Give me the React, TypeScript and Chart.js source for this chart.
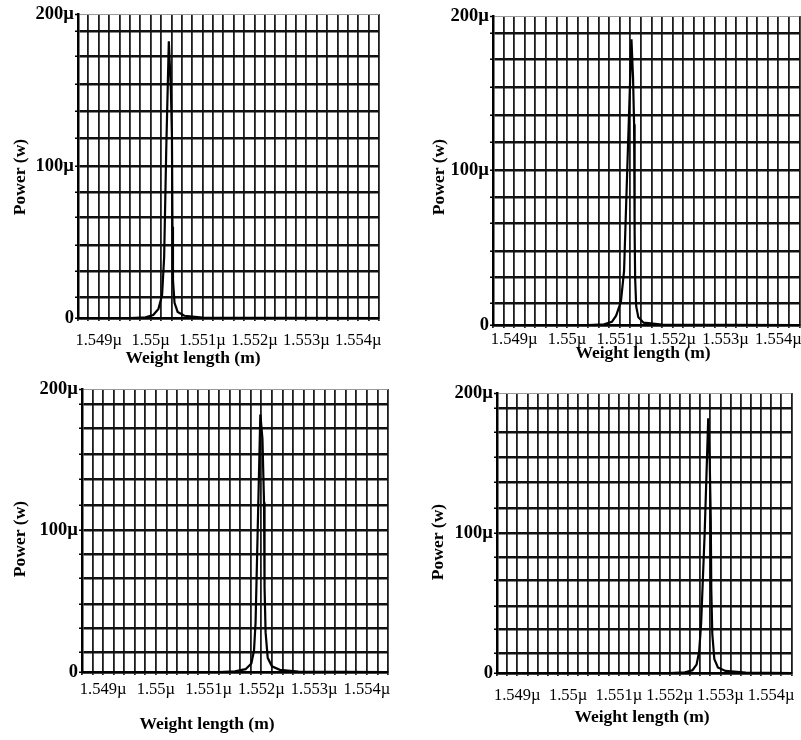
import React, { useEffect, useRef } from "react";
import { Chart, registerables } from "chart.js";

Chart.register(...registerables);

const FONT = '"Liberation Serif", "Times New Roman", Times, serif';

// wavelength axis in nm, power in µW
const xMin = 1548.6;
const xMax = 1554.4;
const xLabelValues = [1549, 1550, 1551, 1552, 1553, 1554];
const xLabelTexts = ["1.549µ", "1.55µ", "1.551µ", "1.552µ", "1.553µ", "1.554µ"];
const yGridValues = [0, 14, 31, 48, 66, 83, 100, 118, 136, 154, 172, 189, 200];
const yLabelValues = [0, 100, 200];
const yLabelTexts = ["0", "100µ", "200µ"];
const xAxisTitle = "Weight length (m)";
const yAxisTitle = "Power (w)";

// grid every 0.2 nm
const xGridValues = Array.from({ length: 30 }, (_, i) => Math.round((xMin + i * 0.2) * 10) / 10);

// panel 1
const wave1 = [1548.6, 1549.6, 1549.9, 1550.05, 1550.15, 1550.22, 1550.26, 1550.3, 1550.35, 1550.39, 1550.41, 1550.42, 1550.43, 1550.46, 1550.52, 1550.65, 1551.0, 1554.4];
const power1 = [0, 0, 0.5, 2, 6, 15, 40, 110, 182, 150, 120, 60, 25, 10, 4, 1.5, 0.3, 0];
// panel 2
const wave2 = [1548.6, 1550.4, 1550.7, 1550.85, 1550.93, 1551.02, 1551.08, 1551.14, 1551.22, 1551.25, 1551.27, 1551.28, 1551.29, 1551.31, 1551.35, 1551.45, 1551.8, 1554.4];
const power2 = [0, 0, 0.5, 2, 6, 15, 35, 100, 185, 160, 130, 61, 30, 12, 5, 1.5, 0.3, 0];
// panel 3
const wave3 = [1548.6, 1551.2, 1551.5, 1551.7, 1551.81, 1551.86, 1551.89, 1551.93, 1551.98, 1552.02, 1552.05, 1552.06, 1552.08, 1552.12, 1552.2, 1552.35, 1552.7, 1554.4];
const power3 = [0, 0, 0.5, 2, 6, 15, 35, 100, 182, 165, 120, 60, 28, 10, 4, 1.5, 0.3, 0];
// panel 4
const wave4 = [1548.6, 1552.0, 1552.3, 1552.45, 1552.53, 1552.58, 1552.62, 1552.69, 1552.76, 1552.79, 1552.81, 1552.82, 1552.84, 1552.88, 1552.95, 1553.1, 1553.5, 1554.4];
const power4 = [0, 0, 0.5, 2, 6, 15, 35, 100, 182, 150, 110, 60, 28, 10, 4, 1.5, 0.3, 0];

type Layout = {
  left: number; top: number; w: number; h: number;
  area: { left: number; top: number; right: number; bottom: number };
  xTickPad: number;
  xTitle: [number, number];
  yTitle: [number, number];
};

const layouts: Layout[] = [
  { left: 0, top: 0, w: 400, h: 370, area: { left: 78, top: 14, right: 379, bottom: 318 }, xTickPad: 9.5, xTitle: [193, 358], yTitle: [20.5, 177] },
  { left: 400, top: 0, w: 401, h: 370, area: { left: 93, top: 16, right: 400, bottom: 325 }, xTickPad: 1.5, xTitle: [243, 353], yTitle: [39.5, 177] },
  { left: 0, top: 370, w: 400, h: 370, area: { left: 82, top: 19, right: 388, bottom: 302 }, xTickPad: 5, xTitle: [207, 354], yTitle: [20.5, 169] },
  { left: 400, top: 370, w: 401, h: 370, area: { left: 97, top: 23, right: 397, bottom: 303 }, xTickPad: 9.5, xTitle: [242, 347], yTitle: [38.5, 172] },
];

const series = [
  [wave1, power1],
  [wave2, power2],
  [wave3, power3],
  [wave4, power4],
];

function labelFor(values: number[], texts: string[], v: number) {
  const i = values.findIndex((t) => Math.abs(t - v) < 1e-6);
  return i >= 0 ? texts[i] : "";
}

function Panel({ layout, wave, power }: { layout: Layout; wave: number[]; power: number[] }) {
  const ref = useRef<HTMLCanvasElement | null>(null);
  useEffect(() => {
    const canvas = ref.current!;
    const titlePlugin = {
      id: "axisTitles",
      afterDraw(chart: any) {
        const ctx = chart.ctx;
        ctx.save();
        ctx.fillStyle = "#000";
        ctx.font = `bold 17.5px ${FONT}`;
        ctx.textAlign = "center";
        ctx.textBaseline = "middle";
        ctx.fillText(xAxisTitle, layout.xTitle[0], layout.xTitle[1]);
        ctx.translate(layout.yTitle[0], layout.yTitle[1]);
        ctx.rotate(-Math.PI / 2);
        ctx.fillText(yAxisTitle, 0, 0);
        ctx.restore();
      },
    };
    const chart = new Chart(canvas, {
      type: "line",
      data: {
        datasets: [
          {
            data: wave.map((x, i) => ({ x, y: power[i] })),
            borderColor: "#000",
            borderWidth: 2.2,
            pointRadius: 0,
            tension: 0,
            fill: false,
          },
        ],
      },
      options: {
        responsive: false,
        animation: false,
        devicePixelRatio: 1,
        layout: {
          padding: { left: 0, top: layout.area.top, right: layout.w - layout.area.right, bottom: 0 },
        },
        plugins: { legend: { display: false }, tooltip: { enabled: false } },
        scales: {
          x: {
            type: "linear",
            min: xMin,
            max: xMax,
            afterBuildTicks: (s: any) => {
              s.ticks = xGridValues.map((v) => ({ value: v }));
            },
            afterFit: (s: any) => {
              s.height = layout.h - layout.area.bottom;
            },
            ticks: {
              autoSkip: false,
              maxRotation: 0,
              minRotation: 0,
              padding: layout.xTickPad,
              color: "#000",
              font: { family: FONT, size: 16.5 },
              callback: (v: any) => labelFor(xLabelValues, xLabelTexts, Number(v)),
            },
            grid: { color: "#1c1c1c", lineWidth: 1.8, tickLength: 3, tickColor: "#000", tickWidth: 1.5 },
            border: { display: true, color: "#000", width: 2.5 },
          },
          y: {
            type: "linear",
            min: 0,
            max: 200,
            afterBuildTicks: (s: any) => {
              s.ticks = yGridValues.map((v) => ({ value: v }));
            },
            afterFit: (s: any) => {
              s.width = layout.area.left;
            },
            ticks: {
              autoSkip: false,
              padding: 1,
              color: "#000",
              font: { family: FONT, size: 18.5, weight: "bold" },
              callback: (v: any) => labelFor(yLabelValues, yLabelTexts, Number(v)),
            },
            grid: {
              color: (c: any) => (c.tick && c.tick.value === 200 ? "#9a9a9a" : "#111"),
              lineWidth: (c: any) => (c.tick && c.tick.value === 200 ? 1 : 2.4),
              tickLength: 3,
              tickColor: "#000",
              tickWidth: 1.5,
            },
            border: { display: true, color: "#000", width: 2.5 },
          },
        },
      } as any,
      plugins: [titlePlugin],
    });
    return () => chart.destroy();
  }, []);
  return (
    <canvas
      ref={ref}
      width={layout.w}
      height={layout.h}
      style={{ position: "absolute", left: layout.left, top: layout.top, width: layout.w, height: layout.h }}
    />
  );
}

export default function App() {
  return (
    <div style={{ position: "absolute", left: 0, top: 0, width: 801, height: 740, background: "#fff", overflow: "hidden" }}>
      {layouts.map((l, i) => (
        <Panel key={i} layout={l} wave={series[i][0]} power={series[i][1]} />
      ))}
    </div>
  );
}
